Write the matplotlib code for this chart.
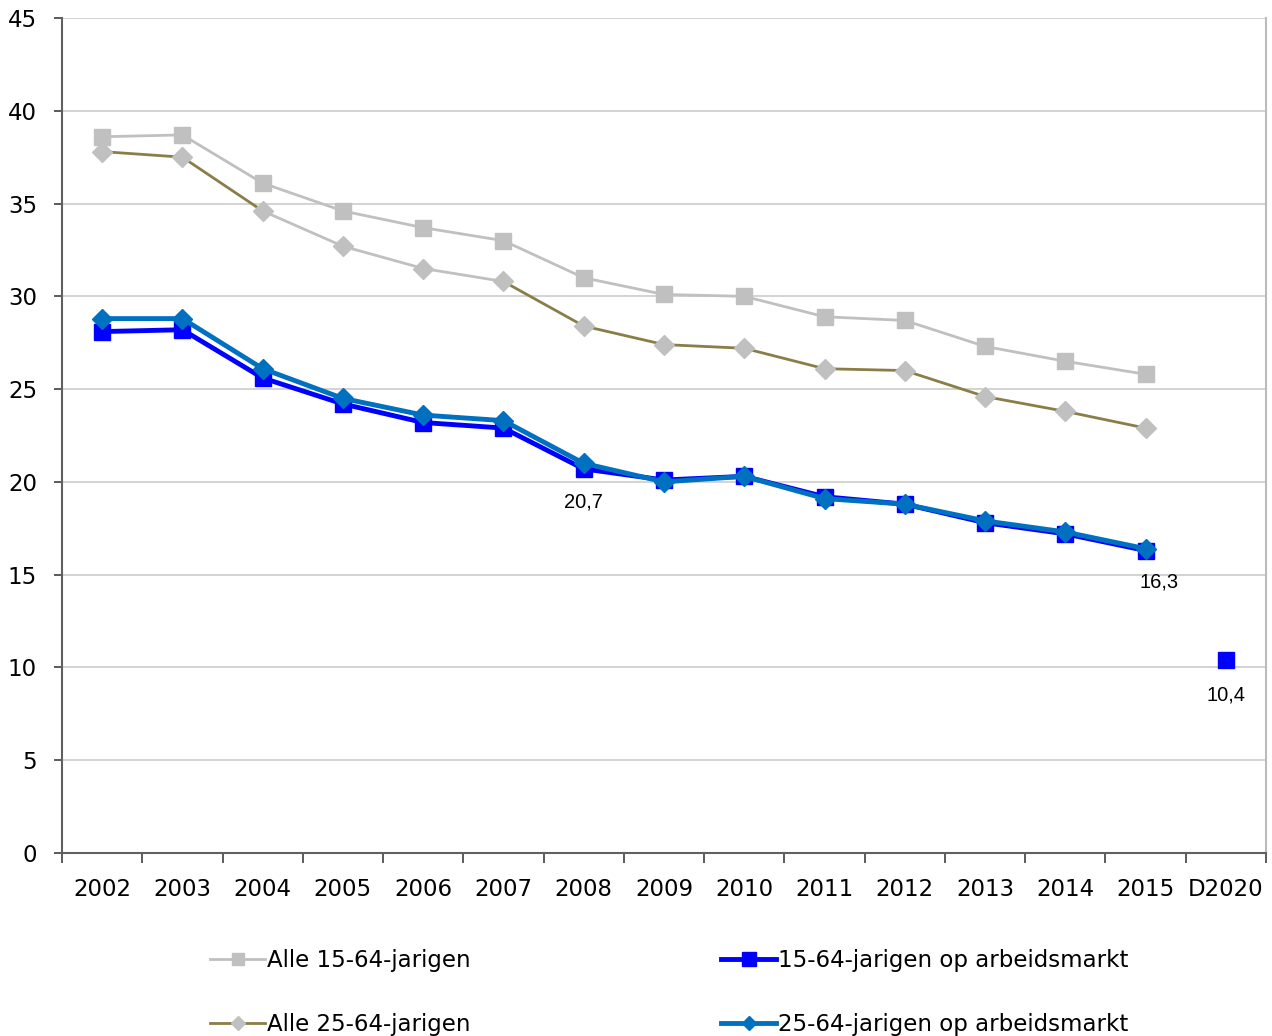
import matplotlib.pyplot as plt
from matplotlib.lines import Line2D
import numpy as np

plt.rcParams['font.family'] = ['DejaVu Sans']

years = ['2002', '2003', '2004', '2005', '2006', '2007', '2008', '2009',
         '2010', '2011', '2012', '2013', '2014', '2015', 'D2020']

alle_15_64 = [38.6, 38.7, 36.1, 34.6, 33.7, 33.0, 31.0, 30.1, 30.0, 28.9,
              28.7, 27.3, 26.5, 25.8]
alle_25_64 = [37.8, 37.5, 34.6, 32.7, 31.5, 30.8, 28.4, 27.4, 27.2, 26.1,
              26.0, 24.6, 23.8, 22.9]
arb_15_64 = [28.1, 28.2, 25.6, 24.2, 23.2, 22.9, 20.7, 20.1, 20.3, 19.2,
             18.8, 17.8, 17.2, 16.3]
arb_25_64 = [28.8, 28.8, 26.1, 24.5, 23.6, 23.3, 21.0, 20.0, 20.3, 19.1,
             18.8, 17.9, 17.3, 16.4]
doel_2020 = 10.4

labels_arb = {6: '20,7', 13: '16,3'}

GRAY = '#c0c0c0'
OLIVE = '#8a7d47'
BLUE = '#0000ff'
TEAL = '#0070c0'

# segment colours of the 25-64 line (Excel per-point formatting)
seg_colors = [OLIVE, OLIVE, GRAY, GRAY, GRAY, OLIVE, OLIVE, OLIVE, OLIVE,
              OLIVE, OLIVE, OLIVE, OLIVE]

fig = plt.figure(figsize=(12.72, 10.36), dpi=100)
ax = fig.add_axes([62 / 1272, 1 - 853 / 1036, (1266 - 62) / 1272, (853 - 18) / 1036])

x = np.arange(len(alle_15_64))

ax.plot(x, alle_15_64, color=GRAY, lw=2.0, marker='s', ms=11.5,
        mfc=GRAY, mec=GRAY, zorder=3)

for i in range(len(x) - 1):
    ax.plot(x[i:i + 2], alle_25_64[i:i + 2], color=seg_colors[i], lw=2.0, zorder=3)
ax.plot(x, alle_25_64, ls='none', marker='D', ms=10.5, mfc=GRAY, mec=GRAY, zorder=4)

ax.plot(x, arb_15_64, color=BLUE, lw=3.5, marker='s', ms=11.5,
        mfc=BLUE, mec=BLUE, zorder=5)
ax.plot([len(years) - 1], [doel_2020], ls='none', marker='s', ms=11.5,
        mfc=BLUE, mec=BLUE, zorder=5)
ax.plot(x, arb_25_64, color=TEAL, lw=3.5, marker='D', ms=10.5,
        mfc=TEAL, mec=TEAL, zorder=6)

for i, txt in labels_arb.items():
    dx = 10 if i == 13 else 0
    dy = -23 if i == 13 else -24
    ax.annotate(txt, (x[i], arb_15_64[i]), xytext=(dx, dy), textcoords='offset points',
                ha='center', va='center', fontsize=14.5, family='Liberation Sans')
ax.annotate('10,4', (len(years) - 1, doel_2020), xytext=(0, -25),
            textcoords='offset points', ha='center', va='center',
            fontsize=14.5, family='Liberation Sans')

ax.set_xlim(-0.5, len(years) - 0.5)
ax.set_ylim(0, 45)
ax.set_yticks(np.arange(0, 46, 5))
ax.set_xticks(np.arange(-0.5, len(years), 1))
ax.set_xticklabels([])
ax.set_xticks(np.arange(len(years)), minor=True)
ax.set_xticklabels(years, minor=True)
ax.tick_params(axis='x', which='major', length=7, width=1.2, color='#404040', direction='out')
ax.tick_params(axis='x', which='minor', length=0, pad=18, labelsize=16.5)
ax.tick_params(axis='y', length=6, width=1.2, color='#404040', labelsize=16.5, pad=12)

ax.grid(axis='y', color='#cccccc', lw=1.2)
ax.set_axisbelow(True)
ax.spines['top'].set_visible(False)
ax.spines['left'].set_color('#606060')
ax.spines['left'].set_linewidth(1.5)
ax.spines['bottom'].set_color('#606060')
ax.spines['bottom'].set_linewidth(1.5)
ax.spines['right'].set_color('#bbbbbb')
ax.spines['right'].set_linewidth(1.5)

h1 = Line2D([], [], color=GRAY, lw=2, marker='s', ms=9, mfc=GRAY, mec=GRAY)
h2 = Line2D([], [], color=OLIVE, lw=2, marker='D', ms=7, mfc=GRAY, mec=GRAY)
h3 = Line2D([], [], color=BLUE, lw=3.5, marker='s', ms=10, mfc=BLUE, mec=BLUE)
h4 = Line2D([], [], color=TEAL, lw=3.5, marker='D', ms=7, mfc=TEAL, mec=TEAL)

leg_kw = dict(frameon=False, fontsize=16.5, handlelength=2.4, handletextpad=0.08,
              labelspacing=1.75, loc='upper left', borderpad=0)
fig.legend([h1, h2], ['Alle 15-64-jarigen', 'Alle 25-64-jarigen'],
           bbox_to_anchor=(199 / 1272, 1 - 938 / 1036), **leg_kw)
fig.legend([h3, h4], ['15-64-jarigen op arbeidsmarkt', '25-64-jarigen op arbeidsmarkt'],
           bbox_to_anchor=(710 / 1272, 1 - 938 / 1036), **leg_kw)

fig.savefig('out.png', dpi=100)
